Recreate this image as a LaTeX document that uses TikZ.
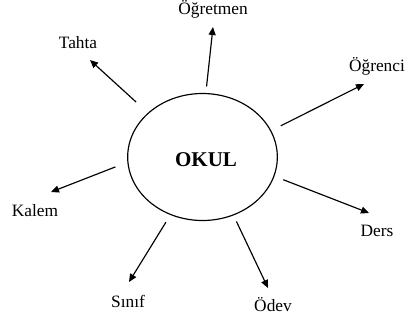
\documentclass[tikz,border=0pt]{standalone}
\usepackage{fontspec}
\setmainfont{Liberation Serif}
\usetikzlibrary{shapes.geometric, arrows.meta, calc, positioning}

\begin{document}
\begin{tikzpicture}[x=0.6pt, y=-0.6pt, arrow/.style = {line width=0.7pt,-{Triangle[length=4.8pt,width=4.2pt]}}]
		\tikzset{word/.style={inner sep=0pt,font=\fontsize{10.4}{12}\selectfont}}
		\useasboundingbox (0,0) rectangle (405,322);

		\node[ellipse, draw=black, line width=0.7pt, inner sep=0pt, minimum width=89.8pt, minimum height=76.2pt, text height=11.2pt, font=\fontsize{12.6}{14}\selectfont\bfseries] (okul) at (202.5,157) {\hspace*{4.2pt}OKUL};

		\node[word] (ogretmen) at (213,9) {Öğretmen};
		\node[word] (tahta) at (78,43) {Tahta};
		\node[word] (ogrenci) at (377,66) {Öğrenci};
		\node[word] (kalem) at (35,211) {Kalem};
		\node[word] (ders) at (377,231) {Ders};
		\node[word] (sinif) at (128,301) {Sınıf};
		\node[word] (odev) at (273,305) {Ödev};

		% arrow tips, just short of the words
		\coordinate (ogretmen-tip) at (213,27);
		\coordinate (tahta-tip) at (90,60);
		\coordinate (ogrenci-tip) at (364,84);
		\coordinate (kalem-tip) at (51,192);
		\coordinate (ders-tip) at (369,213);
		\coordinate (sinif-tip) at (129,282);
		\coordinate (odev-tip) at (268,288);

		\draw [arrow, shorten <=3.9pt] (okul.87.5) -- (ogretmen-tip);
		\draw [arrow, shorten <=9.6pt] (okul.141.8) -- (tahta-tip);
		\draw [arrow, shorten <=6.4pt] (okul.21.1) -- (ogrenci-tip);
		\draw [arrow, shorten <=7.7pt] (okul.184.1) -- (kalem-tip);
		\draw [arrow, shorten <=5.7pt] (okul.345.9) -- (ders-tip);
		\draw [arrow, shorten <=5.1pt] (okul.241.8) -- (sinif-tip);
		\draw [arrow, shorten <=4pt] (okul.298.9) -- (odev-tip);

	\end{tikzpicture}
\end{document}
